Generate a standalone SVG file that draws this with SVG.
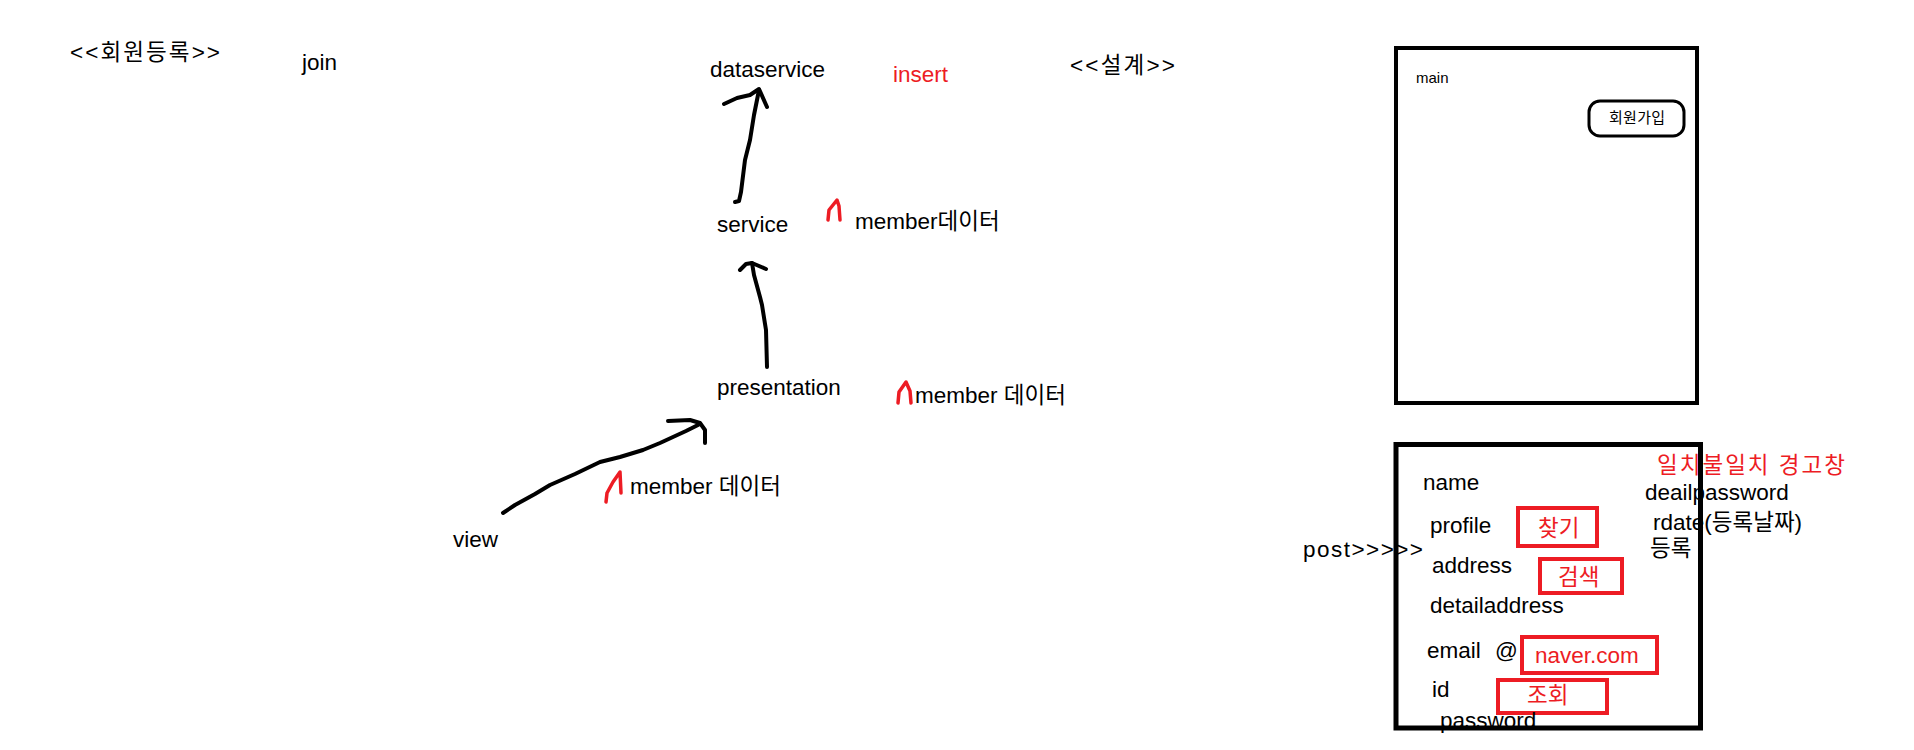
<svg xmlns="http://www.w3.org/2000/svg" width="1914" height="750" viewBox="0 0 1914 750">
<style>
  text { font-family: "Liberation Sans", "Noto Sans CJK KR", sans-serif; font-size: 22.5px; fill: #000; }
  .red { fill: #ed1c24; }
  .small { font-size: 15px; }
  .pen { fill: none; stroke: #000; stroke-width: 4; stroke-linecap: round; stroke-linejoin: round; }
  .rpen { fill: none; stroke: #ed1c24; stroke-width: 3.5; stroke-linecap: round; stroke-linejoin: round; }
  .frame { fill: none; stroke: #000; stroke-width: 5; }
  .rbox { fill: none; stroke: #ed1c24; stroke-width: 4; }
</style>
<rect width="1914" height="750" fill="#fff"/>

<g id="title-join">
  <text x="70" y="60" textLength="150" lengthAdjust="spacing">&lt;&lt;회원등록&gt;&gt;</text>
  <text x="302" y="70">join</text>
</g>

<g id="node-dataservice"><text x="710" y="77">dataservice</text></g>
<g id="label-insert"><text class="red" x="893" y="82">insert</text></g>
<g id="title-design"><text x="1070" y="73" textLength="105" lengthAdjust="spacing">&lt;&lt;설계&gt;&gt;</text></g>

<g id="node-service"><text x="717" y="232">service</text></g>
<g id="label-service-data">
  <path class="rpen" d="M828,220 L829,210 L837,200 L839,206 L840,220"/>
  <text x="855" y="229">member데이터</text>
</g>

<g id="node-presentation"><text x="717" y="395">presentation</text></g>
<g id="label-presentation-data">
  <path class="rpen" d="M898,403 L899,392 L906,382 L910,391 L911,403"/>
  <text x="915" y="403">member 데이터</text>
</g>

<g id="node-view"><text x="453" y="547">view</text></g>
<g id="label-view-data">
  <path class="rpen" d="M606,502 L607,493 L613,482 L620,472 L621,493"/>
  <text x="630" y="494">member 데이터</text>
</g>

<g id="connectors">
  <path class="pen" d="M735,202 L739,201 L741,192 L745,160 L750,140 L754,115 L759,90"/>
  <path class="pen" d="M724,104 L737,98 L750,95 L759,89 L767,107"/>
  <path class="pen" d="M767,367 L766,330 L762,305 L760,297 L754,275 L752,263"/>
  <path class="pen" d="M740,270 L746,264 L752,263 L766,269"/>
  <path class="pen" d="M503,513 L515,505 L535,494 L550,485 L575,474 L600,462 L620,457 L643,450 L660,443 L673,437 L686,431 L698,425"/>
  <path class="pen" d="M668,421 L690,420 L700,423 L705,430 L705,443"/>
</g>

<g id="screen-main">
  <rect x="1396" y="48" width="301" height="355" fill="none" stroke="#000" stroke-width="4"/>
  <text class="small" x="1416" y="83">main</text>
  <g id="btn-join">
    <rect x="1589" y="101" width="95" height="35" rx="11" fill="none" stroke="#000" stroke-width="3"/>
    <text class="small" x="1609" y="123" textLength="56" lengthAdjust="spacing">회원가입</text>
  </g>
</g>

<g id="screen-post">
  <text x="1303" y="557" textLength="120" lengthAdjust="spacing">post&gt;&gt;&gt;&gt;&gt;</text>
  <text x="1423" y="490">name</text>
  <text x="1430" y="533">profile</text>
  <g id="btn-find">
    <rect class="rbox" x="1518" y="508" width="79" height="38"/>
    <text class="red" x="1538" y="536" font-size="21">찾기</text>
  </g>
  <text x="1432" y="573">address</text>
  <g id="btn-search">
    <rect class="rbox" x="1540" y="559" width="82" height="34"/>
    <text class="red" x="1558" y="585" font-size="21">검색</text>
  </g>
  <text x="1430" y="613">detailaddress</text>
  <text x="1427" y="658">email</text>
  <text x="1495" y="658">@</text>
  <g id="btn-naver">
    <rect class="rbox" x="1522" y="637" width="135" height="36"/>
    <text class="red" x="1535" y="663">naver.com</text>
  </g>
  <text x="1432" y="697">id</text>
  <g id="btn-lookup">
    <rect class="rbox" x="1498" y="680" width="109" height="33"/>
    <text class="red" x="1527" y="703" font-size="21">조회</text>
  </g>
  <text x="1440" y="728">password</text>
  <text class="red" x="1657" y="473" textLength="188" lengthAdjust="spacing">일치불일치 경고창</text>
  <text x="1645" y="500">deailpassword</text>
  <text x="1653" y="530">rdate(등록날짜)</text>
  <text x="1650" y="556">등록</text>
  <rect class="frame" x="1396" y="444.5" width="304.5" height="283.5"/>
</g>
</svg>
